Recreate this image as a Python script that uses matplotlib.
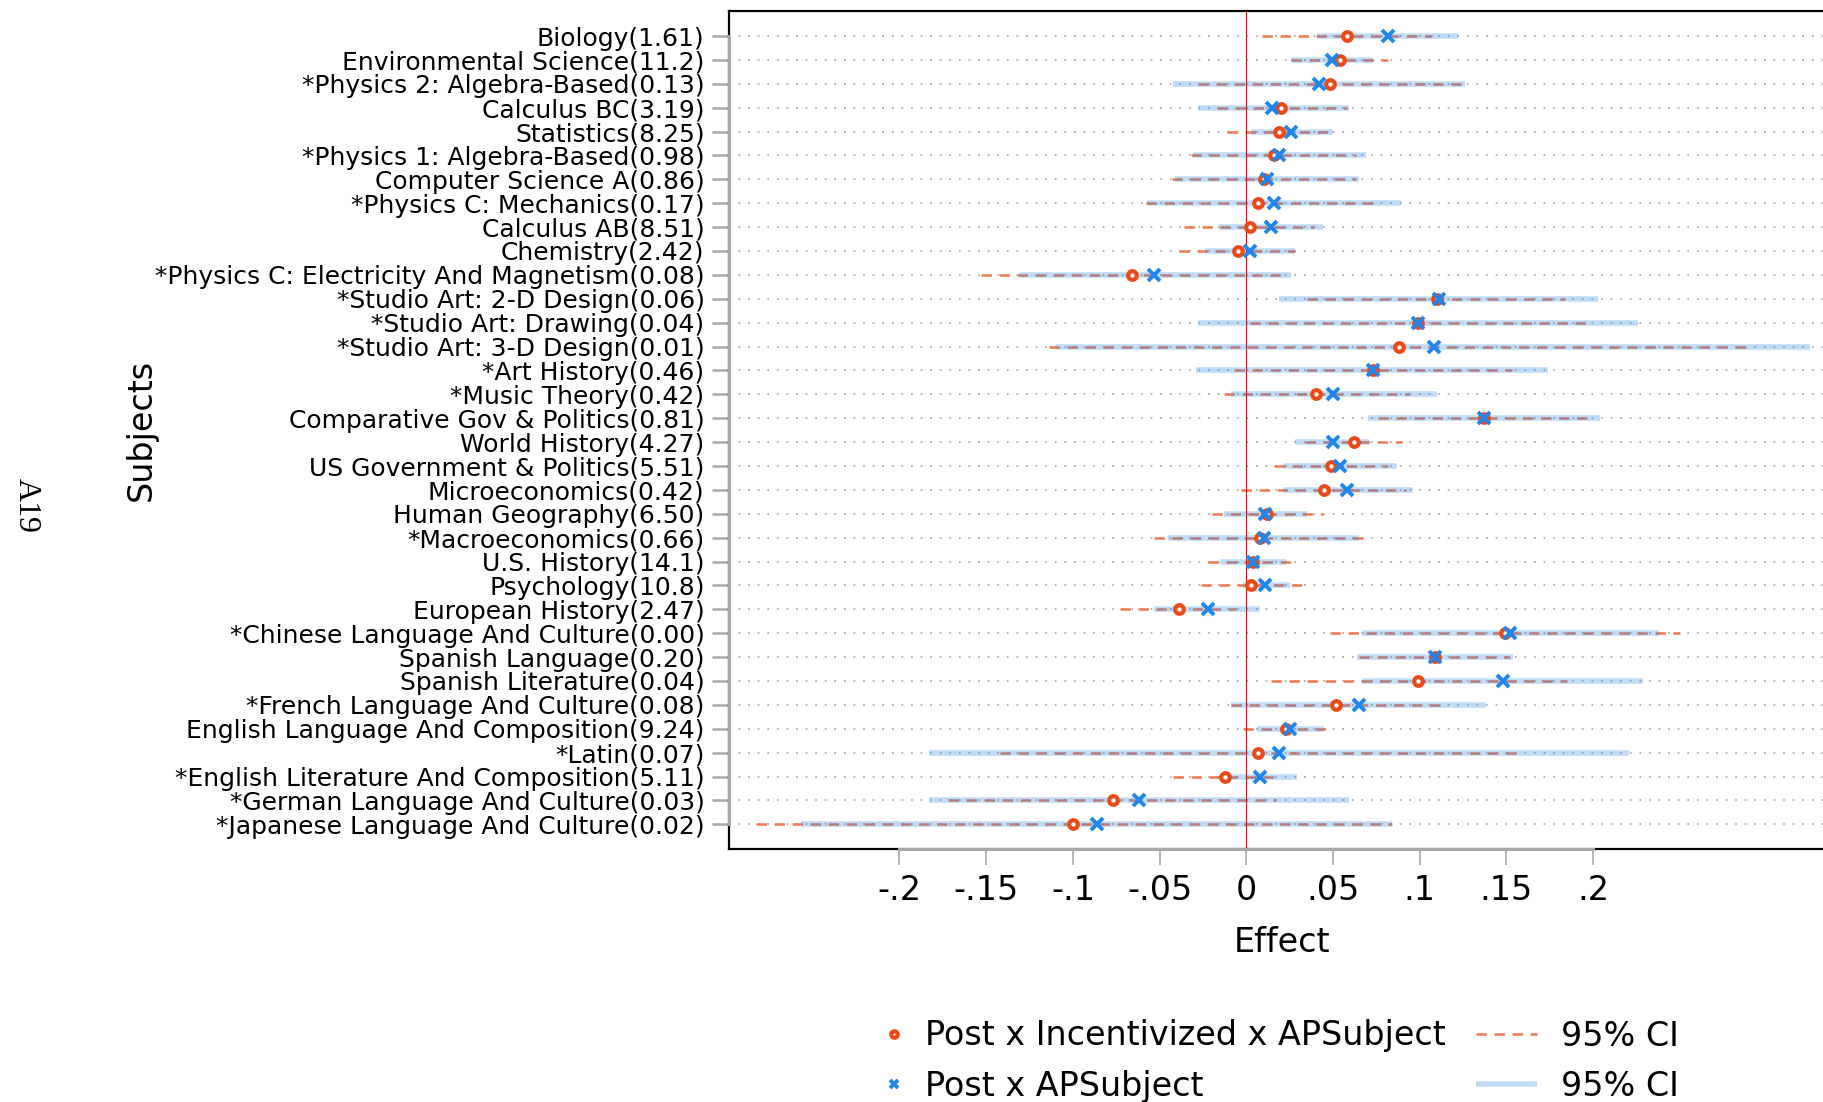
import matplotlib
matplotlib.use("Agg")
import matplotlib.pyplot as plt
import numpy as np

# ---- data -------------------------------------------------------------
subjects = [
    "Biology(1.61)",
    "Environmental Science(11.2)",
    "*Physics 2: Algebra-Based(0.13)",
    "Calculus BC(3.19)",
    "Statistics(8.25)",
    "*Physics 1: Algebra-Based(0.98)",
    "Computer Science A(0.86)",
    "*Physics C: Mechanics(0.17)",
    "Calculus AB(8.51)",
    "Chemistry(2.42)",
    "*Physics C: Electricity And Magnetism(0.08)",
    "*Studio Art: 2-D Design(0.06)",
    "*Studio Art: Drawing(0.04)",
    "*Studio Art: 3-D Design(0.01)",
    "*Art History(0.46)",
    "*Music Theory(0.42)",
    "Comparative Gov & Politics(0.81)",
    "World History(4.27)",
    "US Government & Politics(5.51)",
    "Microeconomics(0.42)",
    "Human Geography(6.50)",
    "*Macroeconomics(0.66)",
    "U.S. History(14.1)",
    "Psychology(10.8)",
    "European History(2.47)",
    "*Chinese Language And Culture(0.00)",
    "Spanish Language(0.20)",
    "Spanish Literature(0.04)",
    "*French Language And Culture(0.08)",
    "English Language And Composition(9.24)",
    "*Latin(0.07)",
    "*English Literature And Composition(5.11)",
    "*German Language And Culture(0.03)",
    "*Japanese Language And Culture(0.02)",
]

# Post x Incentivized x APSubject
inc_coef = [0.058, 0.054, 0.048, 0.020, 0.019, 0.016, 0.010, 0.007, 0.002, -0.005,
            -0.066, 0.110, 0.099, 0.088, 0.073, 0.040, 0.137, 0.062, 0.049, 0.045,
            0.012, 0.008, 0.004, 0.003, -0.039, 0.149, 0.109, 0.099, 0.052, 0.023,
            0.007, -0.012, -0.077, -0.100]
inc_lo = [0.009, 0.026, -0.028, -0.017, -0.011, -0.032, -0.043, -0.058, -0.036, -0.039,
          -0.153, 0.035, 0.002, -0.114, -0.007, -0.013, 0.076, 0.034, 0.016, -0.003,
          -0.020, -0.053, -0.022, -0.026, -0.073, 0.048, 0.065, 0.014, -0.009, -0.002,
          -0.142, -0.042, -0.172, -0.283]
inc_hi = [0.107, 0.082, 0.124, 0.058, 0.049, 0.063, 0.063, 0.073, 0.039, 0.028,
          0.022, 0.184, 0.196, 0.291, 0.153, 0.094, 0.198, 0.090, 0.082, 0.092,
          0.044, 0.068, 0.029, 0.032, -0.006, 0.250, 0.152, 0.185, 0.114, 0.049,
          0.156, 0.018, 0.017, 0.084]

# Post x APSubject
ap_coef = [0.082, 0.0495, 0.042, 0.015, 0.026, 0.019, 0.012, 0.016, 0.014, 0.002,
           -0.053, 0.111, 0.099, 0.108, 0.073, 0.050, 0.137, 0.050, 0.054, 0.058,
           0.011, 0.010, 0.004, 0.011, -0.022, 0.152, 0.109, 0.148, 0.065, 0.025,
           0.019, 0.008, -0.062, -0.086]
ap_lo = [0.041, 0.026, -0.042, -0.028, 0.003, -0.031, -0.041, -0.057, -0.016, -0.024,
         -0.131, 0.019, -0.028, -0.110, -0.029, -0.009, 0.070, 0.028, 0.022, 0.021,
         -0.013, -0.045, -0.015, -0.002, -0.053, 0.067, 0.064, 0.067, -0.009, 0.006,
         -0.183, -0.015, -0.183, -0.257]
ap_hi = [0.122, 0.073, 0.126, 0.059, 0.050, 0.069, 0.065, 0.089, 0.044, 0.028,
         0.026, 0.203, 0.226, 0.325, 0.174, 0.110, 0.204, 0.071, 0.087, 0.096,
         0.035, 0.065, 0.023, 0.025, 0.008, 0.238, 0.154, 0.229, 0.138, 0.045,
         0.221, 0.029, 0.059, 0.084]

xtick_values = [-0.2, -0.15, -0.1, -0.05, 0.0, 0.05, 0.1, 0.15, 0.2]
xtick_labels = ["-.2", "-.15", "-.1", "-.05", "0", ".05", ".1", ".15", ".2"]

legend_labels = ["Post x Incentivized x APSubject", "Post x APSubject", "95% CI", "95% CI"]

# ---- style ------------------------------------------------------------
plt.rcParams["font.family"] = ["DejaVu Sans"]
plt.rcParams["lines.scale_dashes"] = False

ORANGE_MK = "#ea4a14"
ORANGE_CI = "#f37850"
BLUE_MK = "#1f86ee"
BLUE_CI = "#2d8ae8"
GRAY = "#a8a8a8"

W, H = 1823, 1102
fig = plt.figure(figsize=(W / 100, H / 100), dpi=100)
ax = fig.add_axes([728.5 / W, 1 - 849.3 / H, (1835.5 - 728.5) / W, (849.3 - 11) / H])

y = np.arange(len(subjects))

# dotted row guides
ax.set_axisbelow(True)
ax.grid(axis="y", color="#a4a4a4", linewidth=1.2, linestyle=(0, (1.2, 5.7)))
ax.grid(axis="x", visible=False)

# confidence intervals
ci_inc = ax.hlines(y, inc_lo, inc_hi, colors=ORANGE_CI, linewidth=1.8,
                   linestyles=[(0, (7.5, 5.5))], zorder=2)
ci_ap = ax.hlines(y, ap_lo, ap_hi, colors=BLUE_CI, linewidth=4.0, alpha=0.3, zorder=3)

# zero reference line
ax.axvline(0, color="red", linewidth=0.8, zorder=4)

# point estimates
pt_inc, = ax.plot(inc_coef, y, linestyle="none", marker="o", markersize=6.2,
                  markeredgewidth=3.0, markeredgecolor=ORANGE_MK,
                  markerfacecolor="white", zorder=5)
pt_ap, = ax.plot(ap_coef, y, linestyle="none", marker="x", markersize=8,
                 markeredgewidth=2.8, color=BLUE_MK, zorder=6)

# axes
ax.set_xlim(-0.2986, 0.3398)
ax.set_ylim(len(subjects) - 1 + 1.0466, -1.0466)
ax.set_yticks(y, subjects, fontsize=18)
ax.set_xticks(xtick_values, xtick_labels, fontsize=24)
ax.tick_params(axis="y", length=12.2, width=1.8, color=GRAY, pad=5.0)
ax.tick_params(axis="x", length=11.5, width=1.2, color=GRAY, pad=6)

for side in ["top", "bottom", "left", "right"]:
    ax.spines[side].set_color("black")
    ax.spines[side].set_linewidth(1.6)

# axis lines spanning the tick range
ax.plot([xtick_values[0], xtick_values[-1]], [0, 0], transform=ax.get_xaxis_transform(),
        color=GRAY, linewidth=2.2, clip_on=False, zorder=7)
ax.plot([0, 0], [y[0], y[-1]], transform=ax.get_yaxis_transform(),
        color=GRAY, linewidth=2.2, clip_on=False, zorder=7)

ax.set_xlabel("Effect", fontsize=24)
ax.xaxis.set_label_coords(0.5, -0.0915)
ax.set_ylabel("Subjects", fontsize=24)
ax.yaxis.set_label_coords(-0.5154, 0.5)

# legends (markers column, interval column)
LEG_TOP = 1 - 1019.5 / H
fig.legend(handles=[pt_inc, pt_ap], labels=legend_labels[:2], loc="upper left",
           bbox_to_anchor=(887.3 / W, LEG_TOP), frameon=False, fontsize=24,
           handlelength=0.4, handletextpad=0.72, labelspacing=0.525,
           borderpad=0, borderaxespad=0, markerscale=0.75)
fig.legend(handles=[ci_inc, ci_ap], labels=legend_labels[2:], loc="upper left",
           bbox_to_anchor=(1476 / W, LEG_TOP), frameon=False, fontsize=24,
           handlelength=1.82, handletextpad=0.72, labelspacing=0.525,
           borderpad=0, borderaxespad=0)

# page marker
fig.text(26.7 / W, 1 - 505 / H, "A19", rotation=-90, fontsize=23,
         family="Liberation Serif", ha="center", va="center")

fig.savefig("out.png", dpi=100)
